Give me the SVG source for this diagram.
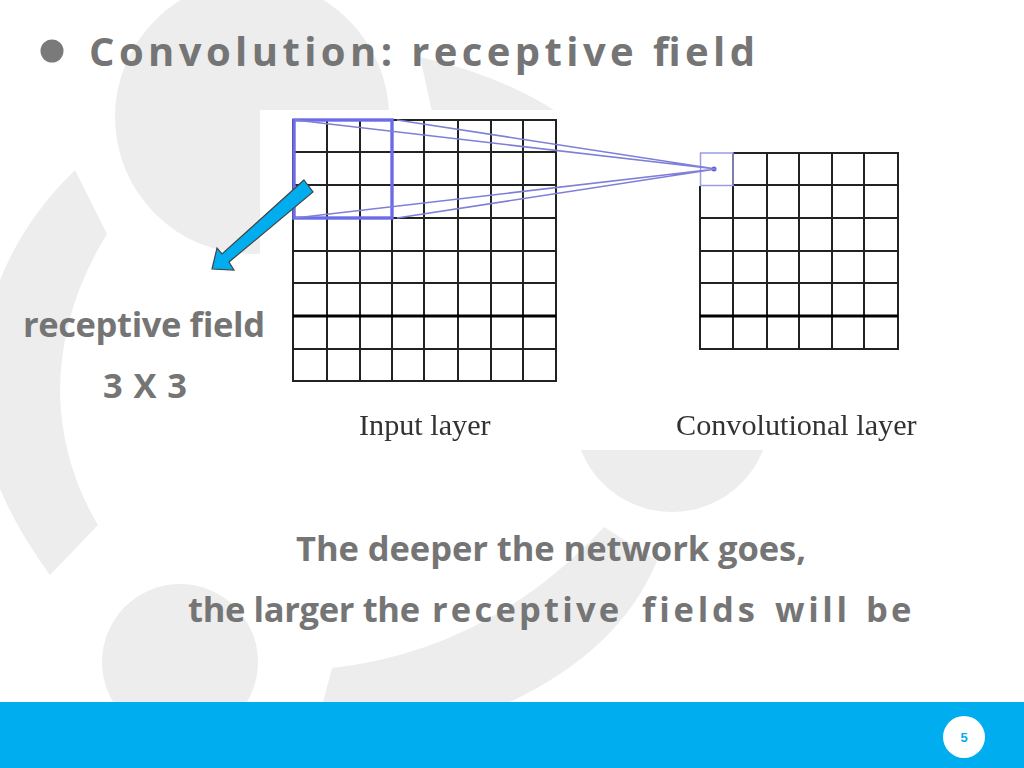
<svg xmlns="http://www.w3.org/2000/svg" width="1024" height="768" viewBox="0 0 1024 768">
<defs><filter id="soft" x="-5%" y="-5%" width="110%" height="110%"><feGaussianBlur stdDeviation="0.45"/></filter></defs>
<style>
.bg{fill:#ededed}
.t{font-family:"Open Sans","Noto Sans","Liberation Sans",sans-serif;font-weight:700;fill:#757575}
.cap{font-family:"Liberation Serif",serif;font-size:30.2px;fill:#333}
.g{stroke:#222;stroke-width:2;fill:none}
.thick{stroke:#000;stroke-width:3;fill:none}
.ray{stroke:#7f7fd8;stroke-width:1.7;fill:none}
.soft{filter:url(#soft)}
</style>
<rect width="1024" height="768" fill="#fff"/>
<g id="background">
<circle class="bg" cx="252" cy="117" r="137"/>
<circle class="bg" cx="180" cy="662" r="78"/>
<circle class="bg" cx="672" cy="414" r="98"/>
<path class="bg" d="M75 170L107 234Q60 310 60 393Q62 465 98 525L50 575Q-20 480 -22 390Q-18 260 75 170Z"/>
<path class="bg" d="M420 57Q500 75 557 112L557 130L436 130Z"/>
<path class="bg" d="M332 668Q490 650 604 527L657 561Q620 650 510 702L323 702Z"/>
</g>
<rect id="figure-backing" x="260" y="110" width="680" height="340" fill="#fff"/>
<g id="input-layer" class="soft">
<path class="g" d="M293 120H556V381H293ZM327 120V381M360 120V381M392 120V381M424 120V381M458 120V381M491 120V381M523 120V381M293 152H556M293 185H556M293 218H556M293 251H556M293 283H556M293 349H556"/>
<path class="thick" d="M293 316H556"/>
<rect x="294" y="120" width="98" height="98" fill="none" stroke="#6c6ce8" stroke-width="3.4"/>
<text class="cap" x="359" y="435">Input layer</text>
</g>
<g id="convolutional-layer" class="soft">
<path class="g" d="M733 153H898V349H700V186M733 153V349M767 153V349M799 153V349M832 153V349M864 153V349M733 185H898M700 218H898M700 251H898M700 283H898"/>
<path class="thick" d="M700 316H898"/>
<rect x="700.5" y="153" width="32.5" height="32.5" fill="none" stroke="#9c9ce6" stroke-width="1.5"/>
<circle cx="714" cy="169" r="2.5" fill="#5d5de0"/>
<text class="cap" x="676" y="435">Convolutional layer</text>
</g>
<g id="connectors">
<path class="ray soft" d="M295 120L716 169M397 120L716 169M295 218L716 169M397 218L716 169"/>
<path id="arrow" d="M304 180L313 192L229 262L234 270L212 269L217 248L222 254Z" fill="#00adef" stroke="#444" stroke-width="1.2"/>
</g>
<g id="title">
<circle cx="52" cy="51" r="11.5" fill="#7a7a7a"/>
<text class="t" x="89" y="66" font-size="40" textLength="666" lengthAdjust="spacing">Convolution: receptive field</text>
</g>
<g id="receptive-label">
<text class="t" x="23" y="337" font-size="34.5" textLength="242" lengthAdjust="spacing">receptive field</text>
<text class="t" x="103" y="398" font-size="34.5" textLength="84" lengthAdjust="spacing">3 X 3</text>
</g>
<g id="note">
<text class="t" x="296" y="561" font-size="34.5" textLength="510" lengthAdjust="spacing">The deeper the network goes,</text>
<text class="t" x="188" y="622" font-size="34.5"><tspan letter-spacing="-0.35">the larger the </tspan><tspan x="432" letter-spacing="3.2">receptive</tspan><tspan x="642" letter-spacing="3.8">fields</tspan><tspan x="775" letter-spacing="3.6">will</tspan><tspan x="866" letter-spacing="3.2">be</tspan></text>
</g>
<g id="footer">
<rect x="0" y="702" width="1024" height="66" fill="#00aeef"/>
<circle cx="964" cy="737" r="21" fill="#fff"/>
<text x="964" y="742" text-anchor="middle" font-family="Liberation Sans,sans-serif" font-weight="700" font-size="13" fill="#00aeef">5</text>
</g>
</svg>
